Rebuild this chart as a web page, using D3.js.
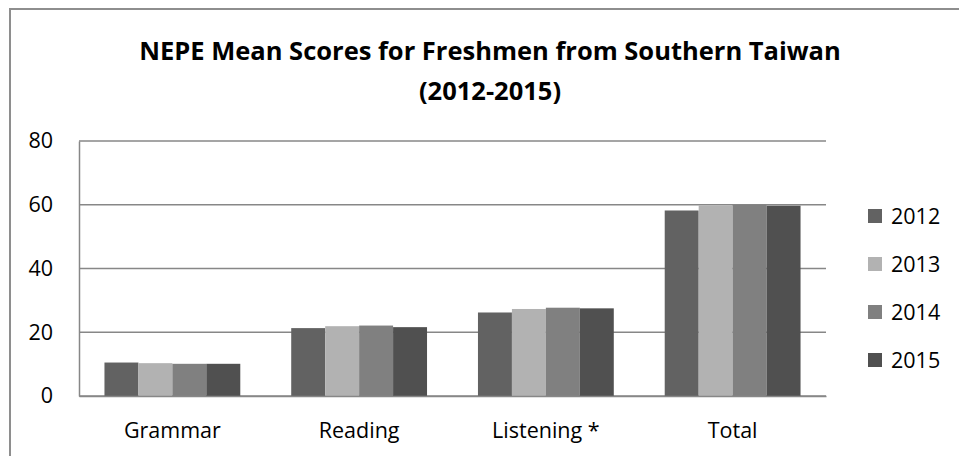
<!DOCTYPE html>
<html>
<head>
<meta charset="utf-8">
<script src="https://cdn.jsdelivr.net/npm/d3@7/dist/d3.min.js"></script>
<style>
  html, body { margin: 0; padding: 0; background: #fff; }
  svg { display: block; }
</style>
</head>
<body>
<svg id="chart" width="959" height="456"></svg>
<script>
// NEPE mean scores by section and year
const categories = ["Grammar", "Reading", "Listening *", "Total"];
const years = ["2012", "2013", "2014", "2015"];
const scores2012 = [10.5, 21.3, 26.2, 58.2];
const scores2013 = [10.3, 21.9, 27.3, 59.8];
const scores2014 = [10.1, 22.1, 27.7, 60.0];
const scores2015 = [10.1, 21.6, 27.5, 59.7];
const yTicks = [0, 20, 40, 60, 80];
const titleLines = ["NEPE Mean Scores for Freshmen from Southern Taiwan", "(2012-2015)"];

const seriesValues = [scores2012, scores2013, scores2014, scores2015];
const colors = ["#626262", "#b2b2b2", "#808080", "#505050"];

const W = 959, H = 456;
const plot = { left: 79, right: 826, top: 141, bottom: 396 };
const font = "'Open Sans', 'DejaVu Sans', sans-serif";
const labelSize = 21.5;

const svg = d3.select("#chart");

// chart frame
svg.append("rect")
  .attr("x", 10).attr("y", 9)
  .attr("width", W).attr("height", H)
  .attr("fill", "#fff")
  .attr("stroke", "#8e8e8e")
  .attr("stroke-width", 2);

// title
svg.append("text")
  .attr("text-anchor", "middle")
  .attr("font-family", font)
  .attr("font-weight", "bold")
  .attr("font-size", 25.5)
  .attr("fill", "#000")
  .selectAll("tspan")
  .data(titleLines)
  .join("tspan")
  .attr("x", 490)
  .attr("y", (d, i) => 60 + i * 40)
  .text(d => d);

// scales
const x = d3.scaleBand()
  .domain(categories)
  .range([plot.left, plot.right])
  .paddingInner(1.5 / 5.5)
  .paddingOuter(0.75 / 5.5);

const xs = d3.scaleBand()
  .domain(years)
  .range([0, x.bandwidth()]);

const y = d3.scaleLinear()
  .domain([0, 80])
  .range([plot.bottom, plot.top]);

// horizontal gridlines
svg.append("g")
  .selectAll("line")
  .data(yTicks)
  .join("line")
  .attr("x1", plot.left).attr("x2", plot.right)
  .attr("y1", d => y(d)).attr("y2", d => y(d))
  .attr("stroke", "#878787")
  .attr("stroke-width", 1.5);

// bars
const groups = svg.append("g")
  .selectAll("g")
  .data(categories)
  .join("g")
  .attr("transform", d => `translate(${x(d)},0)`);

groups.selectAll("rect")
  .data((c, ci) => years.map((yr, si) => ({ year: yr, value: seriesValues[si][ci], si })))
  .join("rect")
  .attr("x", d => xs(d.year))
  .attr("width", xs.bandwidth())
  .attr("y", d => y(d.value))
  .attr("height", d => y(0) - y(d.value))
  .attr("fill", d => colors[d.si]);

// y axis (line + labels)
const yAxis = d3.axisLeft(y)
  .tickValues(yTicks)
  .tickSize(0)
  .tickPadding(26);

const gy = svg.append("g")
  .attr("transform", `translate(${plot.left},0)`)
  .call(yAxis);
gy.select(".domain").attr("stroke", "#878787").attr("stroke-width", 1.5);
gy.selectAll("text")
  .attr("font-family", font)
  .attr("font-size", labelSize)
  .attr("fill", "#000");

// x axis
const xAxis = d3.axisBottom(x).tickSize(0).tickPadding(27);
const gx = svg.append("g")
  .attr("transform", `translate(0,${plot.bottom})`)
  .call(xAxis);
gx.select(".domain").attr("stroke", "#878787").attr("stroke-width", 1.5);
gx.selectAll("text")
  .attr("font-family", font)
  .attr("font-size", labelSize)
  .attr("fill", "#000");

// legend
const legend = svg.append("g")
  .selectAll("g")
  .data(years)
  .join("g")
  .attr("transform", (d, i) => `translate(868,${216 + i * 48})`);

legend.append("rect")
  .attr("x", 0).attr("y", -7)
  .attr("width", 14).attr("height", 14)
  .attr("fill", (d, i) => colors[i]);

legend.append("text")
  .attr("x", 23).attr("y", 0)
  .attr("dy", "0.35em")
  .attr("font-family", font)
  .attr("font-size", labelSize)
  .attr("fill", "#000")
  .text(d => d);
</script>
</body>
</html>
